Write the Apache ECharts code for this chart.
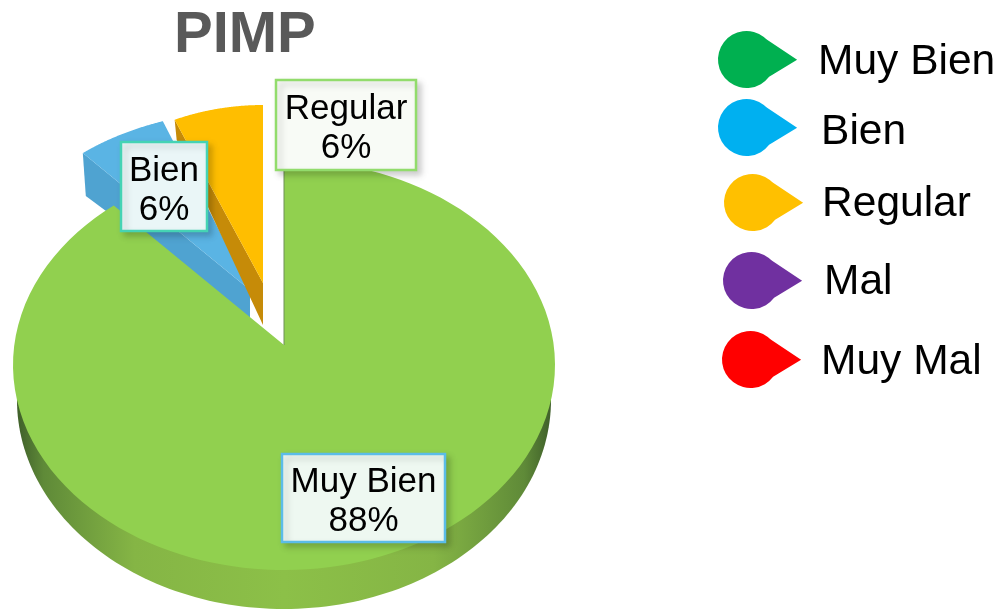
<!DOCTYPE html>
<html><head><meta charset="utf-8">
<style>html,body{margin:0;padding:0;background:#fff}#c{width:1002px;height:609px}</style>
<script src="https://cdn.jsdelivr.net/npm/echarts@6/dist/echarts.min.js"></script>
</head><body><div id="c"></div>
<script>
const categories = ['Muy Bien', 'Bien', 'Regular', 'Mal', 'Muy Mal'];
const values = [88, 6, 6, 0, 0];
const legendColors = ['#00B050', '#00B0F0', '#FFC000', '#7030A0', '#FF0000'];
const total = values.reduce((a, b) => a + b, 0);

// layout of the perspective pie, one entry per visible slice
const sliceLayout = {
  'Muy Bien': {c:[284,365], r:[271,205], apex:[284,345], warp:-0.075, top:'#91D04F', wall:null, z:5,
    box:[282,454,163,88], border:'#5BBCE8', fill:'#EEF8F1'},
  'Bien': {c:[256,269], r:[253,159], apex:[250,290], warp:0, top:'#5AB4E4', wall:'#4FA3D1', wallOut:[3,43], wallIn:28, z:1,
    box:[121,142,86,89], border:'#45D3B4', fill:'#EAF6F7'},
  'Regular': {c:[263,315], r:[240,210], apex:[263,283], warp:0, top:'#FFBE00', wall:'#C68B08', wallOut:[2,20], wallIn:42, z:3,
    box:[276,80,140,90], border:'#92DC6C', fill:'#F8FBF6'}
};

function startFraction(i) {
  // slices run clockwise from 12 o'clock
  let s = 0;
  for (let k = 0; k < i; k++) s += values[k];
  return s / total;
}
function arc(c, r, f0, f1, warp) {
  const pts = [], n = 120;
  for (let j = 0; j <= n; j++) {
    let a = 2 * Math.PI * (f0 + (f1 - f0) * j / n);
    a += (warp || 0) * Math.sin(2 * a);
    pts.push([c[0] + r[0] * Math.sin(a), c[1] - r[1] * Math.cos(a)]);
  }
  return pts;
}
const greenWallGrad = {type:'linear',x:0,y:0,x2:1,y2:0,colorStops:[
  {offset:0,color:'#3F5F2A'},{offset:0.05,color:'#5F8A38'},{offset:0.22,color:'#85B545'},
  {offset:0.5,color:'#8CC048'},{offset:0.78,color:'#85B545'},{offset:0.95,color:'#5F8A38'},{offset:1,color:'#3F5F2A'}]};

function makeRender(i) {
  return function () {
    const name = categories[i], L = sliceLayout[name];
    if (!L || !values[i]) return null;
    const f0 = startFraction(i), f1 = f0 + values[i] / total;
    const pts = arc(L.c, L.r, f0, f1, L.warp);
    const ch = [];
    if (name === 'Muy Bien') {
      ch.push({type:'polygon', z2:L.z, shape:{points:arc([284,400],[267,209],0.25,0.75)},
        style:{fill:greenWallGrad}});
      ch.push({type:'line', z2:L.z+2, shape:{x1:284,y1:168,x2:284,y2:345},
        style:{stroke:'#6F8F58',lineWidth:1}});
    } else {
      // wall under the slice's left edge
      ch.push({type:'polygon', z2:L.z, shape:{points:[L.apex, pts[0],
        [pts[0][0]+L.wallOut[0], pts[0][1]+L.wallOut[1]], [L.apex[0], L.apex[1]+L.wallIn]]},
        style:{fill:L.wall}});
    }
    ch.push({type:'polygon', z2:L.z+1, shape:{points:[L.apex].concat(pts)}, style:{fill:L.top}});
    const b = L.box;
    ch.push({type:'rect', z2:20, shape:{x:b[0],y:b[1],width:b[2],height:b[3]},
      style:{fill:L.fill, stroke:L.border, lineWidth:2.5, shadowBlur:6, shadowColor:'rgba(0,0,0,0.18)', shadowOffsetX:4, shadowOffsetY:4}});
    ch.push({type:'text', z2:21, x:b[0]+b[2]/2, y:b[1]+b[3]/2+4,
      style:{text:name+'\n'+values[i]+'%', fill:'#000', font:'35px "Liberation Sans", Arial, sans-serif',
        lineHeight:39, align:'center', verticalAlign:'middle'}});
    return {type:'group', children:ch};
  };
}

const legendPos = [[718,31],[718,99],[724,174],[723,252],[722,331]];
const legendPad = [15,18,13,16,14];
const legendDrop = [6,10,4,4,6];
const icon = 'path://M50 10L80 30L52 47A28.5 28.5 0 1 1 50 10Z';

const chart = echarts.init(document.getElementById('c'), null, {renderer:'canvas'});
chart.setOption({
  animation:false,
  backgroundColor:'#fff',
  title:{text:'PIMP', left:169, top:2, textStyle:{fontFamily:'"Liberation Sans", Arial, sans-serif', fontSize:58, fontWeight:'bold', color:'#595959'}},
  legend:categories.map((n,i)=>({
    left:legendPos[i][0], top:legendPos[i][1], orient:'vertical', padding:0,
    itemWidth:81, itemHeight:57, icon:icon, selectedMode:false,
    data:[{name:n, itemStyle:{color:legendColors[i]}}],
    formatter:'{t|{name}}',
    textStyle:{rich:{t:{fontFamily:'"Liberation Sans", Arial, sans-serif', fontSize:42.5, color:'#000', padding:[legendDrop[i],0,0,legendPad[i]]}}}
  })),
  series:categories.map((n,i)=>({
    type:'custom', name:n, coordinateSystem:'none', silent:true,
    itemStyle:{color:legendColors[i]},
    data:[values[i]], renderItem:makeRender(i)
  }))
});
</script></body></html>
